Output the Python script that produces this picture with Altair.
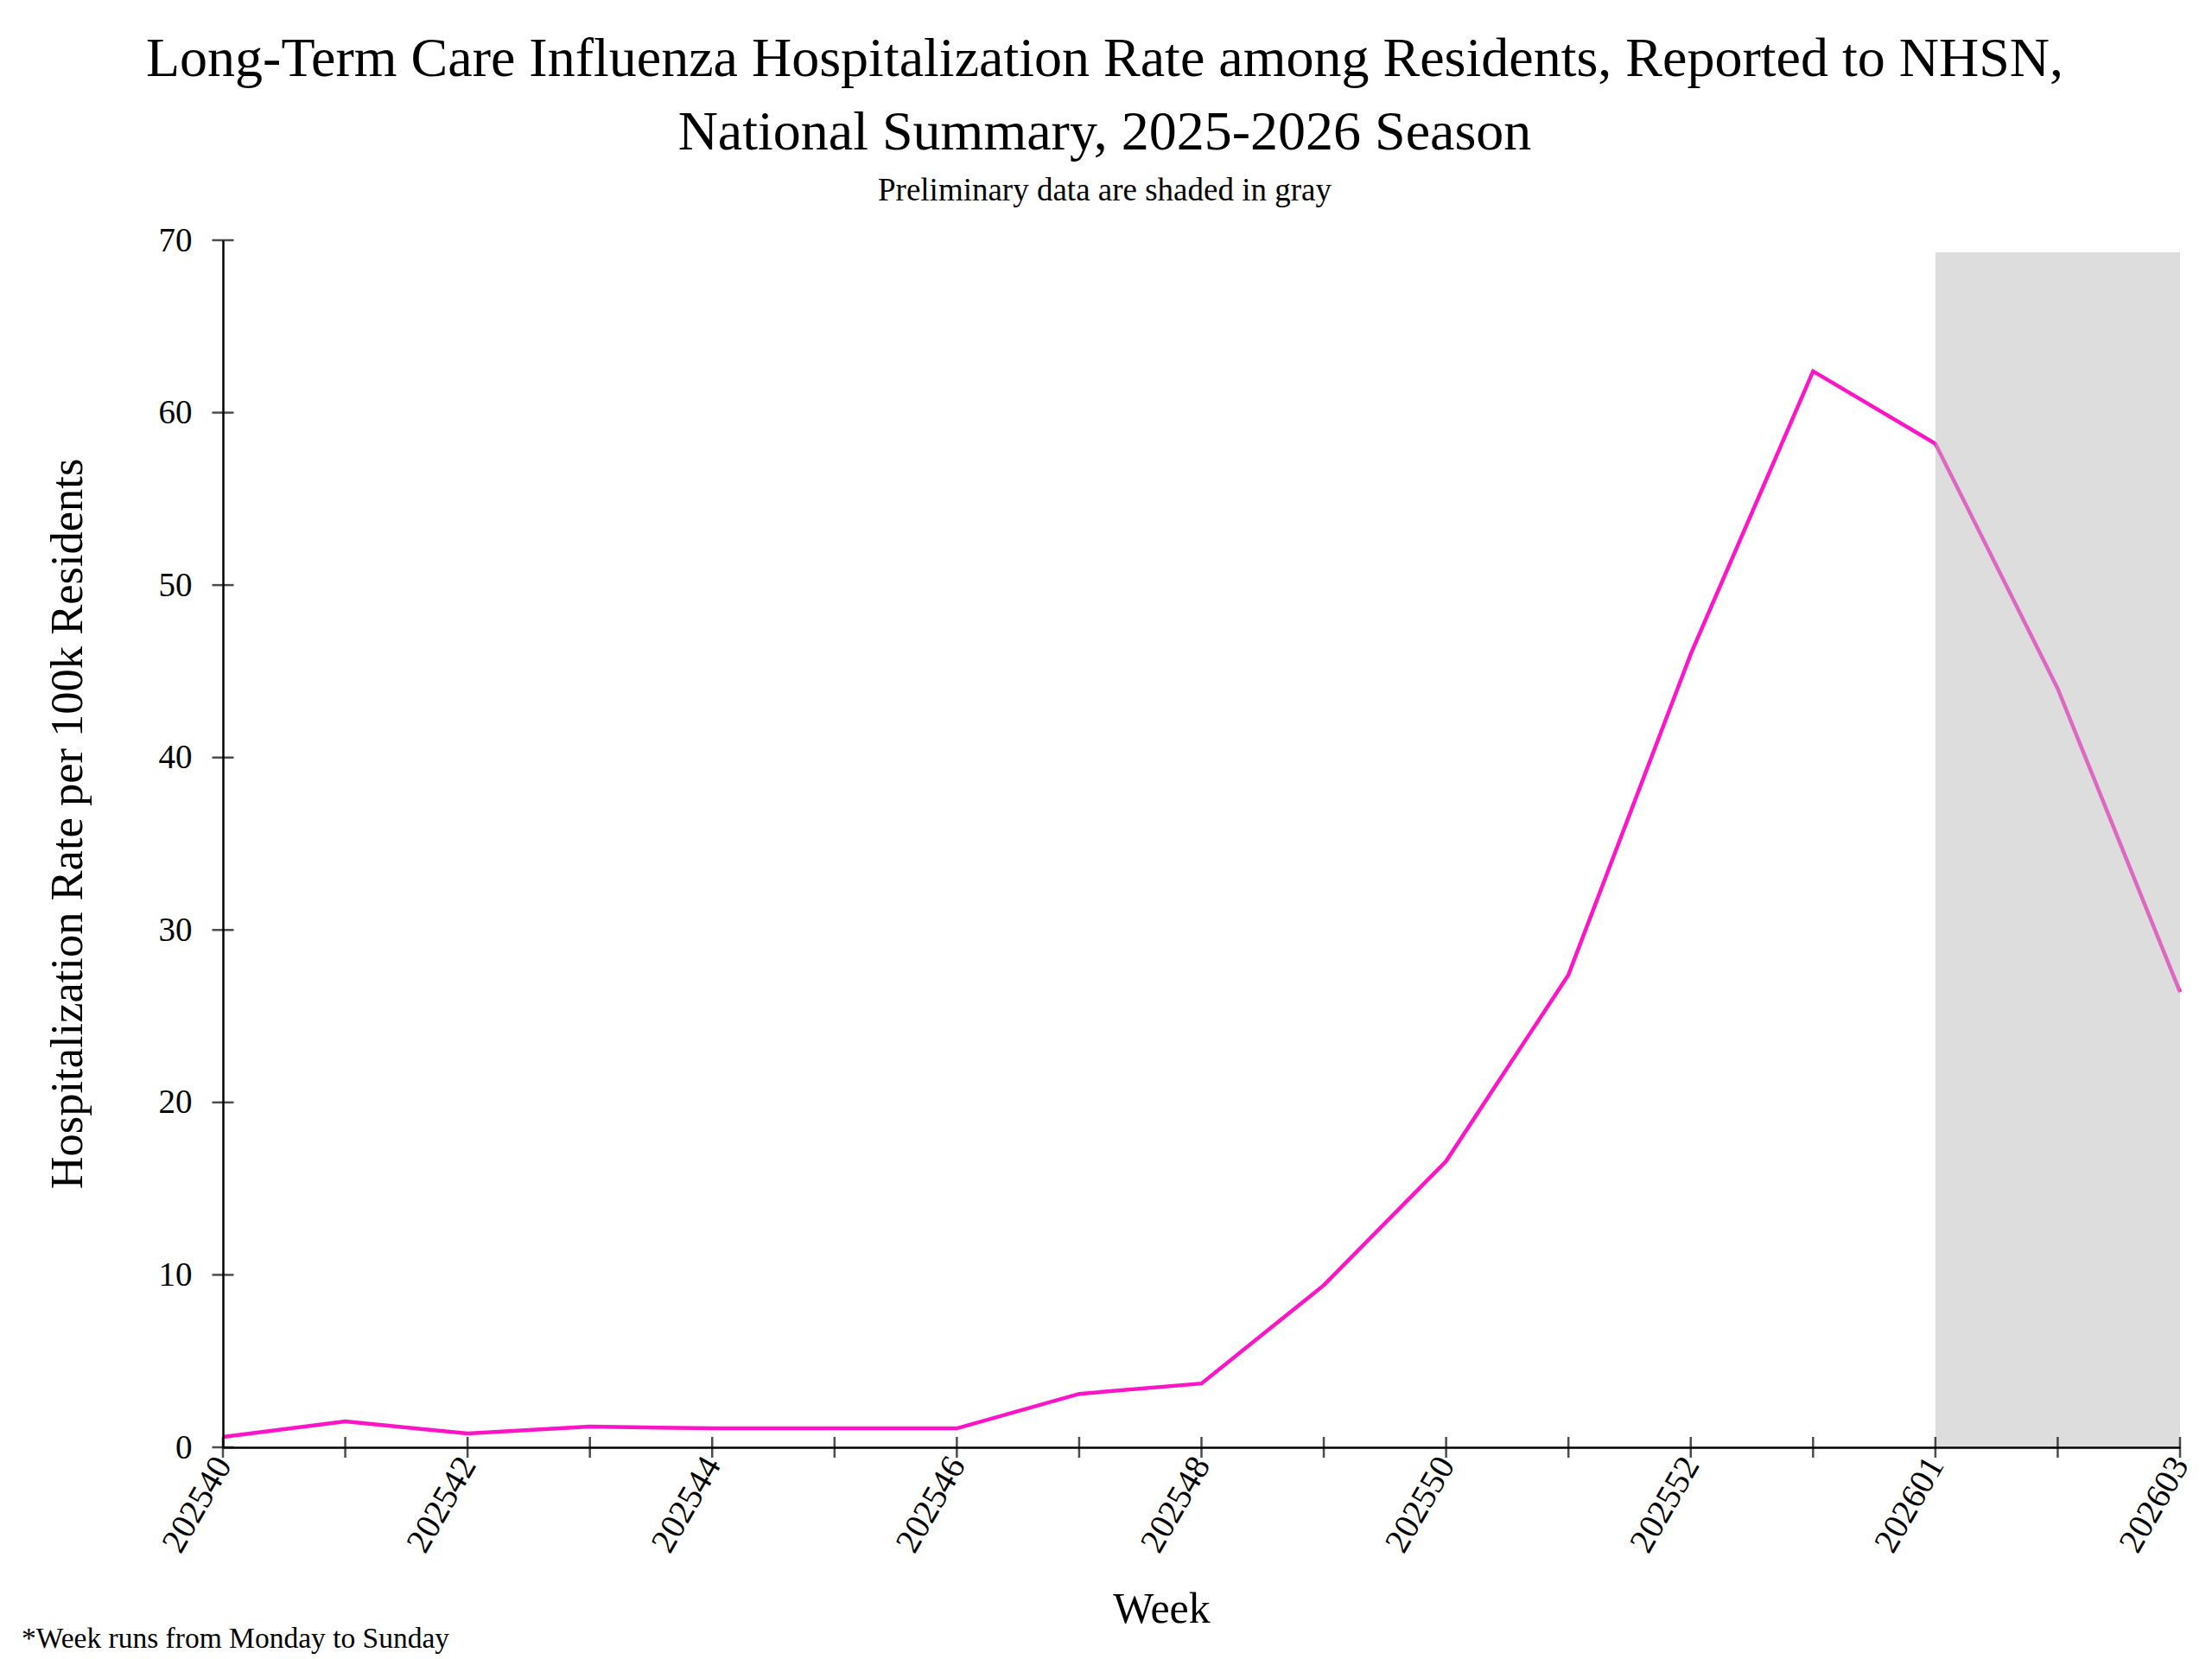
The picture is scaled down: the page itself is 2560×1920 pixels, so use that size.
import json
import altair as alt
import pandas as pd

# ---- data ----
weeks = ["202540", "202541", "202542", "202543", "202544", "202545", "202546",
         "202547", "202548", "202549", "202550", "202551", "202552", "202553",
         "202601", "202602", "202603"]
rates = [0.6, 1.5, 0.8, 1.2, 1.1, 1.1, 1.1, 3.1, 3.7, 9.4, 16.6, 27.4,
         46.0, 62.4, 58.2, 44.0, 26.4]
y_ticks = [0, 10, 20, 30, 40, 50, 60, 70]
prelim_start = "202601"
prelim_end = "202603"
prelim_top = 69.3

title_lines = ["Long-Term Care Influenza Hospitalization Rate among Residents, Reported to NHSN,",
               "National Summary, 2025-2026 Season"]
subtitle = "Preliminary data are shaded in gray"
footnote = "*Week runs from Monday to Sunday"
x_title = "Week"
y_title = "Hospitalization Rate per 100k Residents"

FONT = "Liberation Serif"
idx = list(range(len(weeks)))
label_list = [w if i % 2 == 0 else "" for i, w in enumerate(weeks)]

df = pd.DataFrame({"i": idx, "week": weeks, "rate": rates})
shade_df = pd.DataFrame({"x1": [weeks.index(prelim_start)],
                         "x2": [weeks.index(prelim_end)],
                         "y1": [0], "y2": [prelim_top]})
xt_df = pd.DataFrame({"i": idx, "y": [0] * len(idx)})
yt_df = pd.DataFrame({"i": [0] * len(y_ticks), "y": y_ticks})
foot_df = pd.DataFrame({"t": [footnote]})

W, H = 2265, 1397

xscale = alt.Scale(domain=[0, len(weeks) - 1], nice=False, zero=False)
yscale = alt.Scale(domain=[0, 70], nice=False)

xaxis = alt.Axis(values=idx, labelExpr=json.dumps(label_list) + "[datum.value]",
                 labelAngle=300, labelFontSize=40, labelFont=FONT, labelColor="black",
                 labelPadding=14, labelOverlap=False, ticks=False, grid=False,
                 domainColor="black", domainWidth=2.5,
                 title=x_title, titleFont=FONT, titleFontSize=50, titleFontWeight="normal",
                 titleColor="black", titleX=1086, titleY=187, titleAlign="center",
                 titleBaseline="middle", zindex=1)
yaxis = alt.Axis(values=y_ticks, labelFontSize=39, labelFont=FONT, labelColor="black",
                 labelPadding=36, ticks=False, grid=False,
                 domainColor="black", domainWidth=2.5,
                 title=y_title, titleFont=FONT, titleFontSize=52.5, titleFontWeight="normal",
                 titleColor="black", titleX=-180, titleY=675, titleAngle=270,
                 titleAlign="center", titleBaseline="middle", zindex=1)

line = alt.Chart(df).mark_line(color="#ff14c8", strokeWidth=4.5).encode(
    x=alt.X("i:Q", scale=xscale, axis=xaxis),
    y=alt.Y("rate:Q", scale=yscale, axis=yaxis),
)

shade = alt.Chart(shade_df).mark_rect(color="#bbbbbb", opacity=0.5).encode(
    x=alt.X("x1:Q", scale=xscale), x2="x2:Q",
    y=alt.Y("y1:Q", scale=yscale), y2="y2:Q",
)

xticks = alt.Chart(xt_df).mark_tick(orient="vertical", color="black", size=24,
                                    thickness=2.5, clip=False).encode(
    x=alt.X("i:Q", scale=xscale), y=alt.Y("y:Q", scale=yscale))

yticks = alt.Chart(yt_df).mark_tick(orient="horizontal", color="black", size=25,
                                    thickness=2.5, clip=False).encode(
    x=alt.X("i:Q", scale=xscale), y=alt.Y("y:Q", scale=yscale))

foot = alt.Chart(foot_df).mark_text(font=FONT, fontSize=33.5, align="left",
                                    baseline="middle", color="black").encode(
    x=alt.value(-233), y=alt.value(1619), text="t:N")

chart = alt.layer(line, shade, xticks, yticks, foot).properties(
    width=W, height=H,
    autosize=alt.AutoSizeParams(type="none"),
    padding={"left": 250, "top": 270, "right": 29, "bottom": 244},
    background="white",
    title=alt.TitleParams(text=title_lines, subtitle=subtitle, font=FONT, fontSize=64,
                          fontWeight="normal", color="black", lineHeight=85,
                          subtitleFont=FONT, subtitleFontSize=37, subtitleColor="black",
                          subtitlePadding=17, anchor="middle", dx=-112, offset=20),
).configure_view(stroke=None)

chart.save("out.html", embed_options={"renderer": "svg", "actions": False})
